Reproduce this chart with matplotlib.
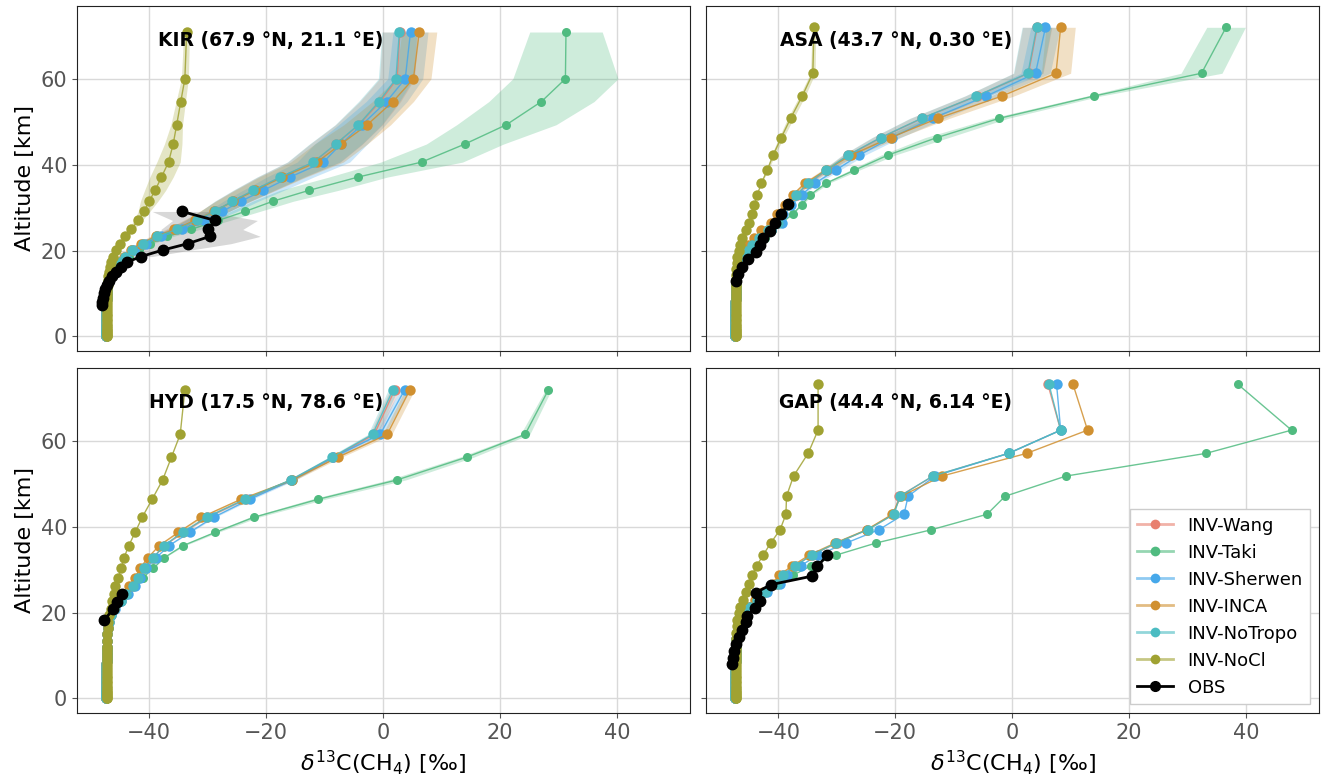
import matplotlib
matplotlib.use("Agg")
import matplotlib.pyplot as plt
import numpy as np

# ---- data (top of atmosphere first) ----
series_names = ['INV-Wang', 'INV-Taki', 'INV-Sherwen', 'INV-INCA', 'INV-NoTropo', 'INV-NoCl']
series_colors = ['#e8806f', '#50bb80', '#46a8ea', '#d09030', '#4bbcc2', '#a0a232']

# lowest model levels, shared by all sites
alt_low = [11.5, 10.8, 10.1, 9.4, 8.7, 8.0, 7.3, 6.6, 5.9, 5.3, 4.7, 4.1, 3.5, 3.0,
           2.5, 2.0, 1.6, 1.2, 0.8, 0.5, 0.2, 0.0]
model_low = [-47.3, -47.3, -47.3, -47.3, -47.3, -47.4, -47.4, -47.4, -47.4, -47.4, -47.4,
             -47.4, -47.4, -47.4, -47.4, -47.4, -47.4, -47.4, -47.4, -47.4, -47.4, -47.4]
nocl_low = [-47.2, -47.2, -47.2, -47.2, -47.2, -47.3, -47.3, -47.3, -47.3, -47.3, -47.3,
            -47.3, -47.3, -47.3, -47.3, -47.3, -47.3, -47.3, -47.3, -47.3, -47.3, -47.3]

# KIR
kir_alt = [70.9, 60.0, 54.7, 49.3, 44.8, 40.6, 37.1, 34.0, 31.5, 29.1, 27.0, 24.9, 23.3, 21.6, 20.1, 18.6, 17.3, 16.2, 15.1, 14.0, 13.0, 12.0]
kir_wang = [2.9, 2.4, -0.5, -4.1, -8.0, -11.8, -17.5, -22.1, -25.7, -28.8, -31.9, -35.3, -38.6, -41.1, -42.9, -44.1, -45.0, -45.6, -46.1, -46.6, -47.0, -47.2]
kir_taki = [31.3, 31.2, 27.1, 21.1, 14.0, 6.6, -4.3, -12.7, -18.8, -23.6, -28.2, -32.9, -36.9, -39.8, -41.8, -43.4, -44.6, -45.5, -46.1, -46.6, -47.0, -47.2]
kir_sherwen = [4.7, 3.8, 0.6, -3.6, -7.2, -10.2, -15.9, -20.5, -24.3, -27.5, -30.7, -34.4, -37.9, -40.6, -42.6, -43.9, -44.8, -45.5, -46.0, -46.5, -46.9, -47.2]
kir_inca = [6.2, 5.2, 1.7, -2.7, -7.2, -11.3, -17.2, -21.9, -25.6, -28.9, -32.2, -35.7, -38.9, -41.4, -43.2, -44.3, -45.1, -45.7, -46.2, -46.6, -47.0, -47.2]
kir_notropo = [2.8, 2.2, -0.7, -4.2, -8.1, -11.9, -17.6, -22.2, -25.8, -28.8, -31.9, -35.3, -38.6, -41.1, -42.9, -44.1, -45.0, -45.6, -46.1, -46.6, -47.0, -47.2]
kir_nocl = [-33.6, -33.9, -34.6, -35.3, -35.9, -36.7, -37.9, -39.0, -40.0, -40.9, -41.9, -43.1, -44.1, -45.0, -45.7, -46.2, -46.5, -46.7, -46.9, -47.0, -47.1, -47.1]
kir_spread_taki = [6.2, 9.0, 9.0, 8.5, 6.6, 7.0, 5.0, 5.0, 3.5, 2.5, 2.0, 1.5, 1.0, 0.5, 0.3, 0, 0, 0, 0, 0, 0, 0]
kir_spread_model = [3.0, 3.0, 3.5, 4.0, 4.5, 4.5, 4.0, 3.5, 3.0, 2.5, 2.0, 1.5, 1.0, 0.7, 0.4, 0.2, 0, 0, 0, 0, 0, 0]
kir_spread_nocl = [0.5, 0.6, 0.8, 1.0, 1.5, 2.0, 2.0, 1.8, 1.5, 1.0, 0.7, 0.5, 0.3, 0.2, 0, 0, 0, 0, 0, 0, 0, 0]
kir_obs_alt = [29.1, 27.0, 24.9, 23.3, 21.6, 20.1, 18.6, 17.3, 16.2, 15.1, 14.0, 13.0, 12.0, 11.0, 10.0, 9.0, 8.0, 7.2]
kir_obs = [-34.4, -28.7, -29.9, -29.6, -33.4, -37.7, -41.4, -43.8, -44.8, -45.6, -46.3, -46.8, -47.2, -47.5, -47.7, -47.9, -48.0, -48.0]
kir_obs_lo = [-39.5, -36.0, -38.0, -37.5, -39.5, -41.5, -43.5]
kir_obs_hi = [-30.0, -21.5, -24.0, -21.0, -26.0, -33.0, -39.5]

# ASA
asa_alt = [72.0, 61.3, 56.0, 50.8, 46.3, 42.2, 38.7, 35.7, 33.0, 30.7, 28.5, 26.4, 24.7, 23.0, 21.4, 19.9, 18.4, 17.0, 15.6, 14.3, 13.1, 12.0]
asa_wang = [4.3, 2.8, -6.0, -15.4, -22.4, -28.0, -31.7, -34.8, -36.8, -38.3, -39.5, -40.0, -41.8, -43.3, -44.5, -45.5, -46.2, -46.7, -47.0, -47.1, -47.2, -47.3]
asa_taki = [36.6, 32.4, 14.0, -2.2, -12.9, -21.3, -27.0, -31.8, -34.5, -36.0, -37.5, -39.5, -41.0, -42.3, -43.5, -44.6, -45.5, -46.1, -46.6, -47.0, -47.2, -47.3]
asa_sherwen = [5.7, 4.0, -4.4, -13.6, -20.6, -26.2, -30.2, -33.7, -36.0, -37.8, -39.2, -39.3, -41.2, -42.8, -44.1, -45.2, -46.0, -46.6, -46.9, -47.1, -47.2, -47.3]
asa_inca = [8.3, 7.5, -1.7, -12.7, -20.8, -27.6, -31.9, -35.4, -37.5, -38.9, -40.3, -41.3, -42.9, -44.2, -45.2, -46.0, -46.5, -46.9, -47.0, -47.1, -47.2, -47.3]
asa_notropo = [4.2, 2.7, -6.1, -15.5, -22.5, -28.1, -31.8, -34.9, -36.9, -38.4, -39.6, -40.0, -41.8, -43.3, -44.5, -45.5, -46.2, -46.7, -47.0, -47.1, -47.2, -47.3]
asa_nocl = [-33.9, -34.1, -35.9, -37.9, -39.5, -40.9, -41.9, -42.9, -43.6, -44.1, -44.5, -45.1, -45.6, -46.2, -46.5, -46.8, -47.0, -47.1, -47.2, -47.2, -47.3, -47.3]
asa_spread_taki = [3.3, 3.5, 1.2, 1.5, 2.0, 1.2, 0.8, 0.5, 0.3, 0.2, 0, 0, 0, 0, 0, 0, 0, 0, 0, 0, 0, 0]
asa_spread_model = [2.5, 2.5, 2.0, 2.0, 1.5, 1.0, 0.7, 0.5, 0.3, 0.2, 0, 0, 0, 0, 0, 0, 0, 0, 0, 0, 0, 0]
asa_spread_nocl = [0.3, 0.4, 0.5, 0.5, 0.4, 0.3, 0.2, 0, 0, 0, 0, 0, 0, 0, 0, 0, 0, 0, 0, 0, 0, 0]
asa_obs_alt = [30.8, 28.4, 26.5, 24.6, 22.9, 21.3, 19.7, 18.1, 16.2, 14.5, 13.0]
asa_obs = [-38.4, -39.5, -40.5, -41.5, -42.6, -43.2, -43.9, -45.2, -46.3, -46.9, -47.2]

# HYD
hyd_alt = [71.9, 61.5, 56.2, 50.9, 46.4, 42.2, 38.7, 35.6, 32.8, 30.3, 28.1, 26.1, 24.3, 22.6, 20.9, 19.4, 17.9, 16.4, 14.9, 13.4, 12.0]
hyd_wang = [2.0, -1.5, -8.5, -15.7, -23.5, -30.1, -34.2, -37.4, -39.3, -40.9, -41.9, -42.7, -43.9, -44.9, -46.0, -46.6, -46.9, -47.1, -47.2, -47.3, -47.3]
hyd_taki = [28.3, 24.3, 14.3, 2.4, -11.1, -22.1, -28.7, -34.2, -37.4, -39.3, -41.1, -42.6, -43.9, -44.9, -45.9, -46.5, -46.9, -47.1, -47.2, -47.3, -47.3]
hyd_sherwen = [3.7, -0.5, -8.5, -15.5, -22.8, -29.0, -33.1, -36.6, -38.8, -40.5, -41.6, -42.5, -43.7, -44.8, -45.9, -46.5, -46.9, -47.1, -47.2, -47.3, -47.3]
hyd_inca = [4.6, 0.7, -7.7, -15.5, -24.3, -31.1, -35.0, -38.3, -40.2, -41.6, -42.4, -43.4, -44.3, -45.2, -46.1, -46.7, -47.0, -47.1, -47.2, -47.3, -47.3]
hyd_notropo = [1.7, -1.8, -8.7, -15.8, -23.6, -30.2, -34.3, -37.5, -39.3, -40.9, -41.9, -42.7, -43.9, -44.9, -46.0, -46.6, -46.9, -47.1, -47.2, -47.3, -47.3]
hyd_nocl = [-33.9, -34.7, -36.2, -37.7, -39.5, -41.2, -42.4, -43.5, -44.3, -44.8, -45.3, -45.8, -46.1, -46.4, -46.6, -46.8, -47.0, -47.1, -47.2, -47.2, -47.3]
hyd_spread_taki = [0.5, 0.8, 1.2, 1.5, 1.2, 0.8, 0.5, 0.3, 0, 0, 0, 0, 0, 0, 0, 0, 0, 0, 0, 0, 0]
hyd_spread_model = [0.8, 0.8, 0.6, 0.5, 0.4, 0.3, 0.2, 0, 0, 0, 0, 0, 0, 0, 0, 0, 0, 0, 0, 0, 0]
hyd_obs_alt = [24.3, 22.5, 20.8, 18.2]
hyd_obs = [-44.7, -45.5, -46.2, -47.7]

# GAP
gap_alt = [73.2, 62.5, 57.1, 51.8, 47.1, 42.9, 39.3, 36.2, 33.4, 30.9, 28.7, 26.7, 24.7, 22.9, 21.3, 19.8, 18.3, 16.8, 15.3, 13.8, 12.3]
gap_wang = [6.1, 8.3, -0.6, -13.5, -19.3, -20.3, -24.8, -30.0, -34.3, -37.1, -39.2, -40.3, -42.2, -43.7, -44.9, -45.8, -46.4, -46.8, -47.0, -47.2, -47.3]
gap_taki = [38.6, 47.8, 33.2, 9.2, -1.2, -4.3, -13.8, -23.3, -30.1, -34.4, -37.5, -39.9, -42.0, -43.7, -44.9, -45.8, -46.4, -46.8, -47.0, -47.2, -47.3]
gap_sherwen = [7.6, 8.3, -0.6, -13.2, -17.8, -18.5, -22.8, -28.4, -33.2, -36.2, -38.5, -39.8, -42.0, -43.6, -44.8, -45.7, -46.3, -46.7, -47.0, -47.2, -47.3]
gap_inca = [10.4, 12.9, 2.5, -12.0, -19.0, -20.5, -24.9, -30.3, -34.7, -37.6, -39.9, -40.8, -42.6, -44.0, -45.1, -45.9, -46.5, -46.9, -47.1, -47.2, -47.3]
gap_notropo = [6.3, 8.3, -0.6, -13.6, -19.2, -20.2, -24.7, -30.1, -34.3, -37.1, -39.2, -40.2, -42.2, -43.7, -44.9, -45.8, -46.4, -46.8, -47.0, -47.2, -47.3]
gap_nocl = [-33.2, -33.2, -34.9, -37.4, -38.6, -38.7, -39.7, -41.3, -42.6, -43.7, -44.5, -45.1, -45.6, -46.1, -46.6, -46.8, -47.0, -47.1, -47.2, -47.2, -47.3]
gap_obs_alt = [33.4, 30.8, 28.5, 26.5, 24.6, 22.8, 21.1, 19.3, 17.7, 16.0, 14.3, 12.6, 11.0, 9.4, 8.0]
gap_obs = [-31.6, -33.3, -34.2, -41.3, -43.9, -43.1, -44.0, -45.3, -45.6, -46.3, -46.8, -47.2, -47.5, -47.7, -47.9]

site_titles = ['KIR (67.9 °N, 21.1 °E)', 'ASA (43.7 °N, 0.30 °E)',
               'HYD (17.5 °N, 78.6 °E)', 'GAP (44.4 °N, 6.14 °E)']


def plot_site(ax, alt, values, spreads, obs_alt, obs, obs_lo=None, obs_hi=None):
    """Draw model profiles with their spread bands plus the observations"""
    full_alt = np.array(alt + alt_low)
    for i, (name, color) in enumerate(zip(series_names, series_colors)):
        low = nocl_low if name == 'INV-NoCl' else model_low
        x = np.array(values[i] + low)
        s = spreads[i]
        if s is not None and max(s) > 0:
            s = np.concatenate([s, np.zeros(len(alt_low))])
            ax.fill_betweenx(full_alt, x - s, x + s, color=color, alpha=0.28, lw=0)
        ms = 6.5 if name == 'INV-Taki' else 7.5
        ax.plot(x, full_alt, '-', color=color, lw=1.0, alpha=0.85, zorder=3)
        ax.plot(x, full_alt, 'o', color=color, ms=ms, mec='none', zorder=3,
                label=name)
    if obs_lo is not None:
        ax.fill_betweenx(obs_alt[:len(obs_lo)], obs_lo, obs_hi,
                         color='grey', alpha=0.3, lw=0)
    ax.plot(obs, obs_alt, '-o', color='black', lw=2, ms=7.5, zorder=4)


fig, axes = plt.subplots(2, 2, figsize=(13.23, 7.78), dpi=100, sharex=True, sharey=True)
fig.subplots_adjust(left=0.058, right=0.997, bottom=0.0835, top=0.9925,
                    wspace=0.026, hspace=0.049)

plot_site(axes[0, 0], kir_alt,
          [kir_wang, kir_taki, kir_sherwen, kir_inca, kir_notropo, kir_nocl],
          [kir_spread_model, kir_spread_taki, kir_spread_model, kir_spread_model,
           kir_spread_model, kir_spread_nocl],
          kir_obs_alt, kir_obs, kir_obs_lo, kir_obs_hi)
plot_site(axes[0, 1], asa_alt,
          [asa_wang, asa_taki, asa_sherwen, asa_inca, asa_notropo, asa_nocl],
          [asa_spread_model, asa_spread_taki, asa_spread_model, asa_spread_model,
           asa_spread_model, asa_spread_nocl],
          asa_obs_alt, asa_obs)
plot_site(axes[1, 0], hyd_alt,
          [hyd_wang, hyd_taki, hyd_sherwen, hyd_inca, hyd_notropo, hyd_nocl],
          [hyd_spread_model, hyd_spread_taki, hyd_spread_model, hyd_spread_model,
           hyd_spread_model, None],
          hyd_obs_alt, hyd_obs)
plot_site(axes[1, 1], gap_alt,
          [gap_wang, gap_taki, gap_sherwen, gap_inca, gap_notropo, gap_nocl],
          [None] * 6,
          gap_obs_alt, gap_obs)

for ax, title in zip(axes.flat, site_titles):
    ax.text(0.5, 0.9, title, transform=ax.transAxes, ha='right', va='center',
            fontsize=13.5, fontweight='bold')
    ax.grid(True, color='#d9d9d9', lw=1)
    ax.set_axisbelow(True)
    ax.tick_params(labelsize=15, labelcolor='#555555', color='#555555')
    ax.set_xlim(-52.4, 52.5)
    ax.set_ylim(-3.4, 77.0)
    ax.set_xticks([-40, -20, 0, 20, 40])
    ax.set_yticks([0, 20, 40, 60])
    for sp in ax.spines.values():
        sp.set_color('#222222')

for ax in axes[:, 0]:
    ax.set_ylabel('Altitude [km]', fontsize=16)
for ax in axes[1, :]:
    ax.set_xlabel(r'$\delta^{13}$C(CH$_4$) [‰]', fontsize=16)

# legend: faded line with solid marker, like the original
handles = []
for c in series_colors:
    handles.append(plt.Line2D([], [], color=matplotlib.colors.to_rgba(c, 0.6), lw=2,
                              marker='o', ms=7, markerfacecolor=c, markeredgecolor='none'))
handles.append(plt.Line2D([], [], color='black', marker='o', ms=7, lw=2))
axes[1, 1].legend(handles, series_names + ['OBS'], loc='lower right', fontsize=13,
                  framealpha=1, edgecolor='#cccccc', fancybox=False)

plt.savefig('out.png', dpi=100)
